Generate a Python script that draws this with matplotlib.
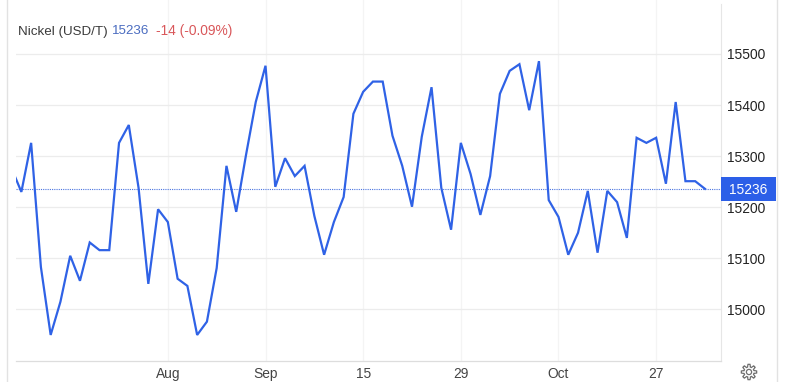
import numpy as np
import matplotlib
matplotlib.use("Agg")
import matplotlib.pyplot as plt
from matplotlib.patches import Rectangle, PathPatch
from matplotlib.path import Path
from matplotlib.transforms import blended_transform_factory

plt.rcParams['font.family'] = ['Liberation Sans', 'DejaVu Sans']

prices = [15276, 15230, 15326, 15083, 14950, 15015, 15105, 15056, 15131, 15116,
          15116, 15326, 15361, 15238, 15050, 15196, 15171, 15060, 15046, 14950,
          14976, 15081, 15281, 15191, 15302, 15406, 15477, 15240, 15296, 15261,
          15281, 15183, 15107, 15171, 15220, 15383, 15426, 15446, 15446, 15340,
          15281, 15201, 15338, 15435, 15238, 15156, 15326, 15265, 15185, 15261,
          15422, 15467, 15480, 15390, 15486, 15214, 15181, 15107, 15150, 15232,
          15111, 15232, 15210, 15140, 15336, 15326, 15336, 15246, 15406, 15251,
          15251, 15236]
y_ticks = [15000, 15100, 15200, 15300, 15400, 15500]
x_tick_pos = [16, 26, 36, 46, 56, 66]
x_tick_labels = ["Aug", "Sep", "15", "29", "Oct", "27"]
last_price = 15236
title_name = "Nickel (USD/T)"
title_price = "15236"
title_change = "-14 (-0.09%)"

W, H = 795, 382
BLUE = "#2f62e6"
FS = 9.9
fig = plt.figure(figsize=(W / 100, H / 100), dpi=100, facecolor="white")
ax = fig.add_axes([16 / W, (H - 361) / H, (720.7 - 16) / W, 361 / H])


def fx(px):
    return px / W


def fy(py):
    return 1 - py / H


ax.plot(range(len(prices)), prices, color=BLUE, lw=1.6, solid_joinstyle="miter", zorder=3)
ax.set_xlim((15.7 - 11.3) / 9.77, (720.7 - 11.3) / 9.77)
ax.set_ylim(14899, 15605.7)

ax.set_yticks(y_ticks)
ax.set_xticks(x_tick_pos)
ax.set_xticklabels(x_tick_labels)
ax.yaxis.tick_right()
ax.tick_params(axis="y", length=0, pad=4.2, labelsize=FS, labelcolor="#222222")
ax.tick_params(axis="x", length=0, pad=4.6, labelsize=FS, labelcolor="#444444")
ax.grid(axis="y", color="#ececec", lw=0.9, zorder=0)
ax.grid(axis="x", color="#f4f4f4", lw=0.9, zorder=0)
for s in ("top", "left"):
    ax.spines[s].set_visible(False)
ax.spines["right"].set_color("#e6e6e6")
ax.spines["right"].set_linewidth(0.8)
ax.spines["right"].set_bounds(14899, 15598)
ax.spines["bottom"].set_color("#dddddd")
ax.spines["bottom"].set_linewidth(0.9)

ax.axhline(last_price, color="#4a74e0", lw=0.8, ls=(0, (1, 1)), zorder=2)

tr = blended_transform_factory(ax.transAxes, ax.transData)
ax.add_patch(Rectangle((1.0, last_price - 23), 55.3 / 704.7, 45.5, transform=tr,
                       facecolor="#2c5fe8", edgecolor="none", clip_on=False, zorder=4))
ax.text(1.0 + 27.8 / 704.7, last_price - 2, str(last_price), transform=tr, color="white",
        fontsize=FS, ha="center", va="center", zorder=5)

# outer frame lines
for px in (7.3, 777.3):
    fig.add_artist(plt.Line2D([fx(px), fx(px)], [0, 1], color="#e2e2e2", lw=1.0,
                              transform=fig.transFigure))

# header
fig.text(fx(17.5), fy(31.5), title_name, color="#3a3a3a", fontsize=9.6, va="center")
fig.text(fx(112), fy(31.5), title_price, color="#4a6cc0", fontsize=9.6, va="center")
fig.text(fx(156), fy(31.5), title_change, color="#d9575a", fontsize=FS, va="center")

# settings gear icon
cx, cy = 749, 372
ang = np.linspace(0, 2 * np.pi, 193)
rad = 6.4 + 1.3 * np.clip(2.2 * np.cos(8 * ang), -1, 1)
outer = np.c_[cx + rad * np.cos(ang), H - cy + rad * np.sin(ang)]
ang2 = np.linspace(0, 2 * np.pi, 49)
inner = np.c_[cx + 2.6 * np.cos(ang2), H - cy + 2.6 * np.sin(ang2)]
for poly in (outer, inner):
    fig.add_artist(PathPatch(Path(poly), facecolor="none", edgecolor="#6f6f6f", lw=0.9,
                             transform=None))

fig.savefig("out.png", dpi=100, facecolor="white")
